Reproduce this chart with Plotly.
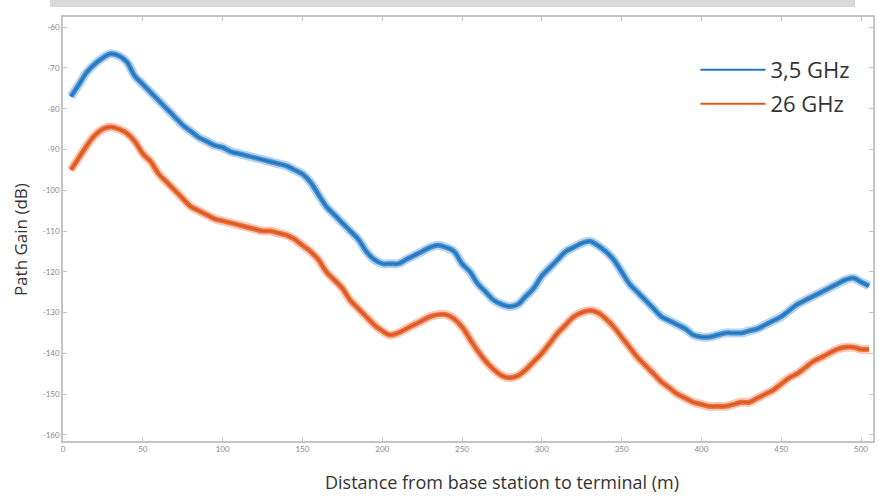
import plotly.graph_objects as go

distance_m = list(range(5, 510, 5))

gain_3_5ghz = [-77, -74, -71, -69, -67.5, -66.5, -67, -68.5, -72, -74,
               -76, -78, -80, -82, -84, -85.5, -87, -88, -89, -89.5,
               -90.5, -91, -91.5, -92, -92.5, -93, -93.5, -94, -95, -96,
               -98, -101, -104, -106, -108, -110, -112, -115, -117, -118,
               -118, -118, -117, -116, -115, -114, -113.5, -114, -115, -118,
               -120, -123, -125, -127, -128, -128.5, -128, -126, -124, -121,
               -119, -117, -115, -114, -113, -112.5, -113.5, -115, -117, -120,
               -123, -125, -127, -129, -131, -132, -133, -134, -135.5, -136,
               -136, -135.5, -135, -135, -135, -134.5, -134, -133, -132, -131,
               -129.5, -128, -127, -126, -125, -124, -123, -122, -121.5, -122.5,
               -123.5]

gain_26ghz = [-95, -92, -89, -86.5, -85, -84.5, -85, -86, -88, -91,
              -93, -96, -98, -100, -102, -104, -105, -106, -107, -107.5,
              -108, -108.5, -109, -109.5, -110, -110, -110.5, -111, -112, -113.5,
              -115, -117, -120, -122, -124, -127, -129, -131, -133, -134.5,
              -135.5, -135, -134, -133, -132, -131, -130.5, -130.5, -131.5, -133.5,
              -136.5, -139.5, -142, -144, -145.5, -146, -145.5, -144, -142, -140,
              -137.5, -135, -133, -131, -130, -129.5, -130, -131.5, -133.5, -136,
              -138.5, -141, -143, -145, -147, -148.5, -150, -151, -152, -152.5,
              -153, -153, -153, -152.5, -152, -152, -151, -150, -149, -147.5,
              -146, -145, -143.5, -142, -141, -140, -139, -138.5, -138.5, -139,
              -139]

series_names = ["3,5 GHz", "26 GHz"]
series_colors = ["#1f77c4", "#e2561b"]

x_tick_vals = [0, 50, 100, 150, 200, 250, 300, 350, 400, 450, 500]
x_tick_text = ["0", "50", "100", "150", "200", "250", "300", "350", "400", "450", "500"]
y_tick_vals = [-60, -70, -80, -90, -100, -110, -120, -130, -140, -150, -160]
y_tick_text = ["-60", "-70", "-80", "-90", "-100", "-110", "-120", "-130", "-140", "-150", "-160"]

x_title = "Distance from base station to terminal (m)"
y_title = "Path Gain (dB)"

fig = go.Figure()
legends = ["legend", "legend2"]
for name, vals, col, lg in zip(series_names, [gain_3_5ghz, gain_26ghz], series_colors, legends):
    # soft halo to mimic the noisy band
    fig.add_trace(go.Scatter(x=distance_m, y=vals, mode="lines",
                             line=dict(color=col, width=9, shape="spline"),
                             opacity=0.3, showlegend=False, hoverinfo="skip"))
    fig.add_trace(go.Scatter(x=distance_m, y=vals, mode="lines",
                             line=dict(color=col, width=5, shape="spline"),
                             opacity=0.75, showlegend=False, hoverinfo="skip"))
    fig.add_trace(go.Scatter(x=distance_m, y=vals, mode="lines", name=name,
                             line=dict(color=col, width=2, shape="spline"),
                             legend=lg))

axis_common = dict(showline=True, linecolor="#c4c4c4", linewidth=1.5, mirror="ticks",
                   ticks="inside", ticklen=4, tickcolor="#c4c4c4", showgrid=False,
                   zeroline=False, tickfont=dict(family="Lato", size=8, color="#888888"))

fig.update_layout(
    width=879, height=497,
    margin=dict(l=63, r=4, t=17, b=56),
    paper_bgcolor="white", plot_bgcolor="white",
    xaxis=dict(range=[0, 507.5], tickvals=x_tick_vals, ticktext=x_tick_text, **axis_common),
    yaxis=dict(range=[-161.5, -57.5], tickvals=y_tick_vals, ticktext=y_tick_text, **axis_common),
    legend=dict(x=(697 - 63) / 812, xanchor="left", y=(441 - 70) / 424,
                yanchor="middle", bgcolor="rgba(0,0,0,0)", itemwidth=65,
                font=dict(family="Open Sans", size=22, color="#333333")),
    legend2=dict(x=(697 - 63) / 812, xanchor="left", y=(441 - 104) / 424,
                 yanchor="middle", bgcolor="rgba(0,0,0,0)", itemwidth=65,
                 font=dict(family="Open Sans", size=22, color="#333333")),
    annotations=[
        dict(text=x_title, xref="paper", yref="paper", x=(503 - 63) / 812,
             y=(441 - 482) / 424, xanchor="center", yanchor="middle", showarrow=False,
             font=dict(family="Open Sans", size=18, color="#333333")),
        dict(text=y_title, xref="paper", yref="paper", x=(20 - 63) / 812,
             y=(441 - 240) / 424, xanchor="center", yanchor="middle", showarrow=False,
             textangle=-90, font=dict(family="Open Sans", size=17, color="#333333")),
    ],
    shapes=[dict(type="rect", xref="paper", yref="paper",
                 x0=(50 - 63) / 812, x1=(857 - 63) / 812,
                 y0=(441 - 7) / 424, y1=(441 - 0) / 424,
                 fillcolor="#d9d9d9", line=dict(width=0), layer="below")],
)

fig.write_html("out.html")
